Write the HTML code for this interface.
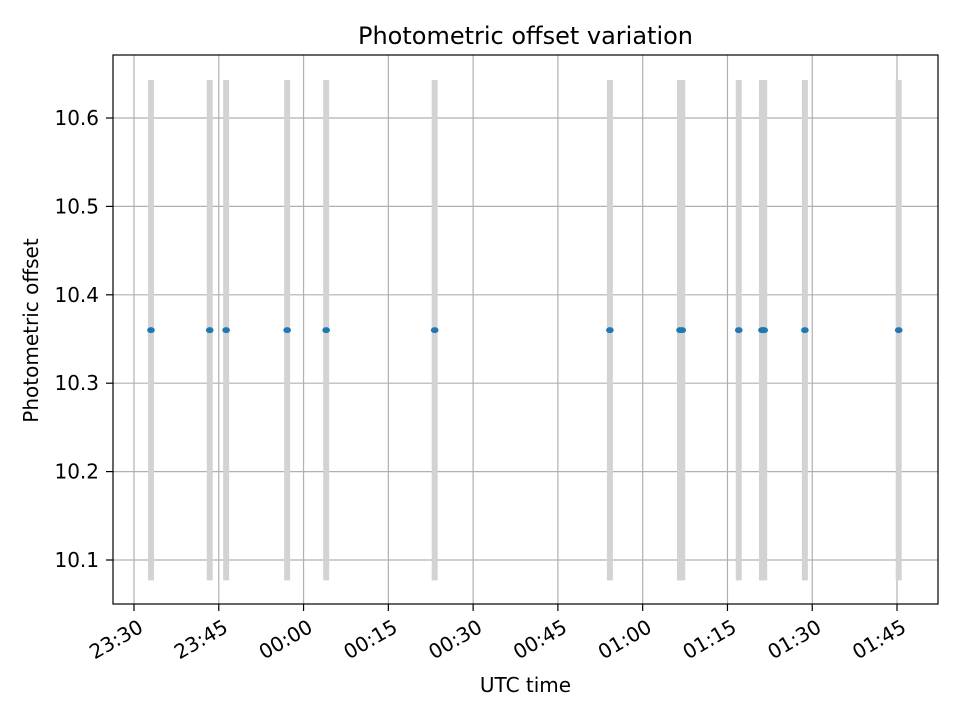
<!DOCTYPE html>
<html><head><meta charset="utf-8"><style>
body{margin:0;background:#fff}
svg text{font-family:"DejaVu Sans","Liberation Sans",sans-serif;fill:#000}
</style></head><body>
<svg id="chart" width="960" height="720" xmlns="http://www.w3.org/2000/svg"></svg>
<script>
// minutes since 23:30
const times = [3.0, 13.4, 16.3, 27.1, 34.0, 53.2, 84.2, 96.6, 97.0, 107.0, 111.1, 111.5, 118.7, 135.3];
const offsets = [10.36,10.36,10.36,10.36,10.36,10.36,10.36,10.36,10.36,10.36,10.36,10.36,10.36,10.36];
const errors = [0.283,0.283,0.283,0.283,0.283,0.283,0.283,0.283,0.283,0.283,0.283,0.283,0.283,0.283];
const xTicks = [0,15,30,45,60,75,90,105,120,135];
const xTickLabels = ["23:30","23:45","00:00","00:15","00:30","00:45","01:00","01:15","01:30","01:45"];
const yTicks = [10.1,10.2,10.3,10.4,10.5,10.6];
const yTickLabels = ["10.1","10.2","10.3","10.4","10.5","10.6"];

const svg = document.getElementById('chart');
const NS = 'http://www.w3.org/2000/svg';
const L=113,R=938,T=55,B=604;
const xs = m => 134 + (m/15)*84.78;
const ys = v => 560 - (v-10.1)/0.1*88.4;
function mk(tag, attrs, parent){const e=document.createElementNS(NS,tag);for(const k in attrs)e.setAttribute(k,attrs[k]);(parent||svg).appendChild(e);return e;}

const grid = mk('g',{});


xTicks.forEach(t=>{const x=xs(t);mk('line',{x1:x,x2:x,y1:T,y2:B,stroke:'#b0b0b0','stroke-width':1.2},grid);});
yTicks.forEach(t=>{const y=ys(t);mk('line',{x1:L,x2:R,y1:y,y2:y,stroke:'#b0b0b0','stroke-width':1.2},grid);});

const eb = mk('g',{});


times.forEach((t,i)=>{const x=xs(t);const b=mk('line',{x1:x,x2:x,y1:ys(offsets[i]+errors[i]),y2:ys(offsets[i]-errors[i]),stroke:'#d3d3d3','stroke-width':6},eb);

});
const pts = mk('g',{});


times.forEach((t,i)=>{const c=mk('ellipse',{cx:xs(t),cy:ys(offsets[i]),rx:3.8,ry:3,fill:'#1f77b4'},pts);

});

const frame = mk('rect',{x:L,y:T,width:R-L,height:B-T,fill:'none',stroke:'#000','stroke-width':1.2});



xTicks.forEach((t,i)=>{const x=xs(t);mk('line',{x1:x,x2:x,y1:B,y2:B+7,stroke:'#000','stroke-width':1.2});
const tx=mk('text',{x:0,y:0,'font-size':20,'text-anchor':'end',transform:`translate(${x+3},${B+14}) rotate(-30)`,dy:'0.75em'});
tx.textContent=xTickLabels[i];

});
yTicks.forEach((t,i)=>{const y=ys(t);mk('line',{x1:L-7,x2:L,y1:y,y2:y,stroke:'#000','stroke-width':1.2});
const tx=mk('text',{x:L-14,y:y+7,'font-size':20,'text-anchor':'end'});
tx.textContent=yTickLabels[i];

});

const title=mk('text',{x:(L+R)/2,y:44,'font-size':24,'text-anchor':'middle'});
title.textContent='Photometric offset variation';


const xl=mk('text',{x:(L+R)/2,y:692,'font-size':20,'text-anchor':'middle'});
xl.textContent='UTC time';


const yl=mk('text',{x:0,y:0,'font-size':20,'text-anchor':'middle',transform:`translate(38,${(T+B)/2+1}) rotate(-90)`});
yl.textContent='Photometric offset';


</script>
</body></html>
